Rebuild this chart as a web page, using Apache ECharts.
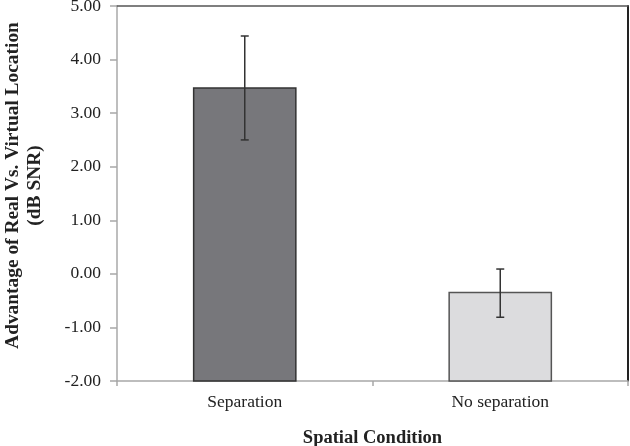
<!DOCTYPE html>
<html><head><meta charset="utf-8">
<script src="https://cdn.jsdelivr.net/npm/echarts@6/dist/echarts.min.js"></script>
<style>html,body{margin:0;padding:0;background:#fff}#c{width:630px;height:446px}</style>
</head><body><div id="c"></div>
<script>
var categories = ['Separation', 'No separation'];
var means = [3.47, -0.35];
var errLow = [2.50, -0.81];
var errHigh = [4.44, 0.09];
var barColors = ['#77777b', '#dcdcde'];
var barBorders = ['#333333', '#555555'];
var yMin = -2, yMax = 5, yInterval = 1;

var chart = echarts.init(document.getElementById('c'));
var font = 'Liberation Serif';
chart.setOption({
  animation: false,
  grid: {left: 117, right: 2, top: 6, bottom: 65, outerBoundsMode: 'none', containLabel: false},
  xAxis: [{
    type: 'category', data: categories,
    axisLine: {onZero: false, lineStyle: {color: '#a8a8a8', width: 1.5}},
    axisTick: {show: true, length: 5, lineStyle: {color: '#a8a8a8', width: 1.5}},
    axisLabel: {color: '#222', fontFamily: font, fontSize: 17.5, margin: 12},
    name: 'Spatial Condition', nameLocation: 'middle', nameGap: 48,
    nameTextStyle: {color: '#222', fontFamily: font, fontSize: 18.5, fontWeight: 'bold'}
  }, {
    type: 'category', data: categories, position: 'top',
    axisLine: {onZero: false, lineStyle: {color: '#555', width: 1.5}},
    axisTick: {show: false}, axisLabel: {show: false}
  }],
  yAxis: [{
    type: 'value', min: yMin, max: yMax, interval: yInterval,
    axisLine: {show: true, onZero: false, lineStyle: {color: '#a8a8a8', width: 1.5}},
    axisTick: {show: true, length: 7, lineStyle: {color: '#a8a8a8', width: 1.5}},
    splitLine: {show: false},
    axisLabel: {color: '#222', fontFamily: font, fontSize: 17.5, margin: 16,
      formatter: function (v) { return v.toFixed(2); }},
    name: 'Advantage of Real Vs. Virtual Location\n(dB SNR)',
    nameLocation: 'middle', nameGap: 71, nameRotate: 90,
    nameTextStyle: {color: '#222', fontFamily: font, fontSize: 19.4, fontWeight: 'bold', lineHeight: 22, align: 'center', padding: [0, 0, 0, 16]}
  }, {
    type: 'value', min: yMin, max: yMax, interval: yInterval, position: 'right',
    axisLine: {show: true, onZero: false, lineStyle: {color: '#222', width: 2}},
    axisTick: {show: false}, axisLabel: {show: false}, splitLine: {show: false}
  }],
  series: [{
    type: 'custom',
    data: means.map(function (v, i) { return [i, v]; }),
    renderItem: function (params, api) {
      var i = api.value(0);
      var top = api.coord([i, api.value(1)]);
      var base = api.coord([i, yMin]);
      var w = api.size([1, 0])[0] * 0.4;
      return {type: 'rect',
        shape: {x: top[0] - w / 2, y: top[1], width: w, height: base[1] - top[1]},
        style: {fill: barColors[i], stroke: barBorders[i], lineWidth: 1.5}};
    },
    z: 2
  }, {
    type: 'custom',
    data: categories.map(function (c, i) { return [i, errLow[i], errHigh[i]]; }),
    renderItem: function (params, api) {
      var lo = api.coord([api.value(0), api.value(1)]);
      var hi = api.coord([api.value(0), api.value(2)]);
      var w = 4;
      var st = {stroke: '#333', lineWidth: 1.5};
      return {type: 'group', children: [
        {type: 'line', shape: {x1: hi[0], y1: hi[1], x2: lo[0], y2: lo[1]}, style: st},
        {type: 'line', shape: {x1: hi[0] - w, y1: hi[1], x2: hi[0] + w, y2: hi[1]}, style: st},
        {type: 'line', shape: {x1: lo[0] - w, y1: lo[1], x2: lo[0] + w, y2: lo[1]}, style: st}
      ]};
    },
    z: 10
  }]
});
</script></body></html>
